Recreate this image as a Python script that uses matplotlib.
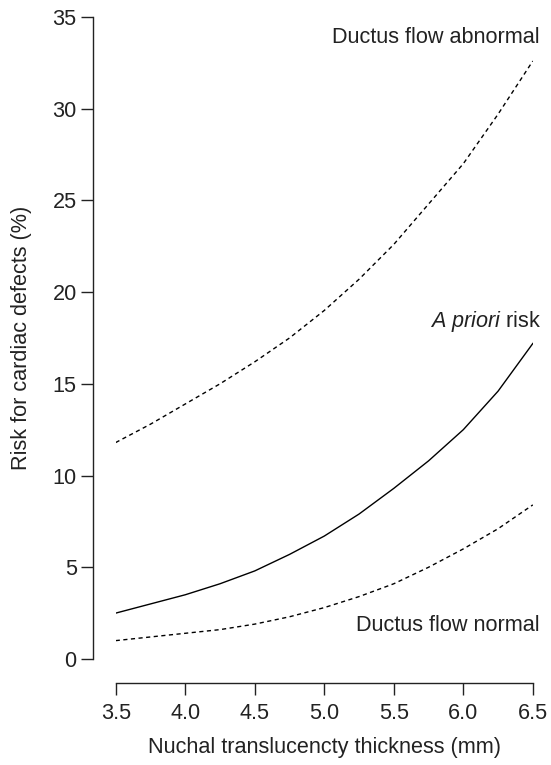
import matplotlib
matplotlib.use("Agg")
import matplotlib.pyplot as plt

plt.rcParams['font.family'] = ['Liberation Sans', 'DejaVu Sans']
plt.rcParams['mathtext.fontset'] = 'custom'
plt.rcParams['mathtext.it'] = 'Liberation Sans:italic'
plt.rcParams['mathtext.rm'] = 'Liberation Sans'

#%% values
nt = [3.5, 3.75, 4.0, 4.25, 4.5, 4.75, 5.0, 5.25, 5.5, 5.75, 6.0, 6.25, 6.5]
risk_abnormal = [11.8, 12.8, 13.9, 15.0, 16.2, 17.5, 19.0, 20.7, 22.6, 24.8, 27.0, 29.7, 32.6]
risk_apriori = [2.5, 3.0, 3.5, 4.1, 4.8, 5.7, 6.7, 7.9, 9.3, 10.8, 12.5, 14.6, 17.2]
risk_normal = [1.0, 1.2, 1.4, 1.6, 1.9, 2.3, 2.8, 3.4, 4.1, 5.0, 6.0, 7.1, 8.4]

xticks = [3.5, 4.0, 4.5, 5.0, 5.5, 6.0, 6.5]
yticks = [0, 5, 10, 15, 20, 25, 30, 35]

FS = 15.6
TXT = '#222222'

#%%
fig = plt.figure(figsize=(5.51, 7.65), dpi=100)
ax = fig.add_axes([0.21, 0.1386, 0.757, 0.8392])

dash = (0, (3, 2.5))
ax.plot(nt, risk_abnormal, color='black', lw=1.0, linestyle=dash)
ax.plot(nt, risk_apriori, color='black', lw=1.0)
ax.plot(nt, risk_normal, color='black', lw=1.0, linestyle=dash)

ax.set_xlim(3.5, 6.5)
ax.set_ylim(0, 35)
ax.set_xticks(xticks)
ax.set_xticklabels(['%.1f' % t for t in xticks])
ax.set_yticks(yticks)

for s in ['top', 'right']:
    ax.spines[s].set_visible(False)
ax.spines['left'].set_position(('outward', 16.6))
ax.spines['bottom'].set_position(('outward', 17.3))
ax.spines['left'].set_bounds(0, 35)
ax.spines['bottom'].set_bounds(3.5, 6.5)
for s in ['left', 'bottom']:
    ax.spines[s].set_linewidth(1.0)
    ax.spines[s].set_color(TXT)

ax.tick_params(axis='both', length=8.5, width=1.0, color=TXT,
               labelsize=FS, labelcolor=TXT)
ax.tick_params(axis='x', pad=6)
ax.tick_params(axis='y', pad=3)

ax.set_xlabel('Nuchal translucencty thickness (mm)', fontsize=FS,
              color=TXT, labelpad=9)
ax.set_ylabel('Risk for cardiac defects (%)', fontsize=FS,
              color=TXT, labelpad=15)

ax.text(6.55, 33.9, 'Ductus flow abnormal', ha='right', va='center',
        fontsize=FS, color=TXT, clip_on=False)
ax.text(6.56, 18.4, r'$\mathit{A\ priori}$ risk', ha='right', va='center',
        fontsize=FS, color=TXT, clip_on=False)
ax.text(6.55, 1.85, 'Ductus flow normal', ha='right', va='center',
        fontsize=FS, color=TXT, clip_on=False)

fig.savefig('out.png', dpi=100)
